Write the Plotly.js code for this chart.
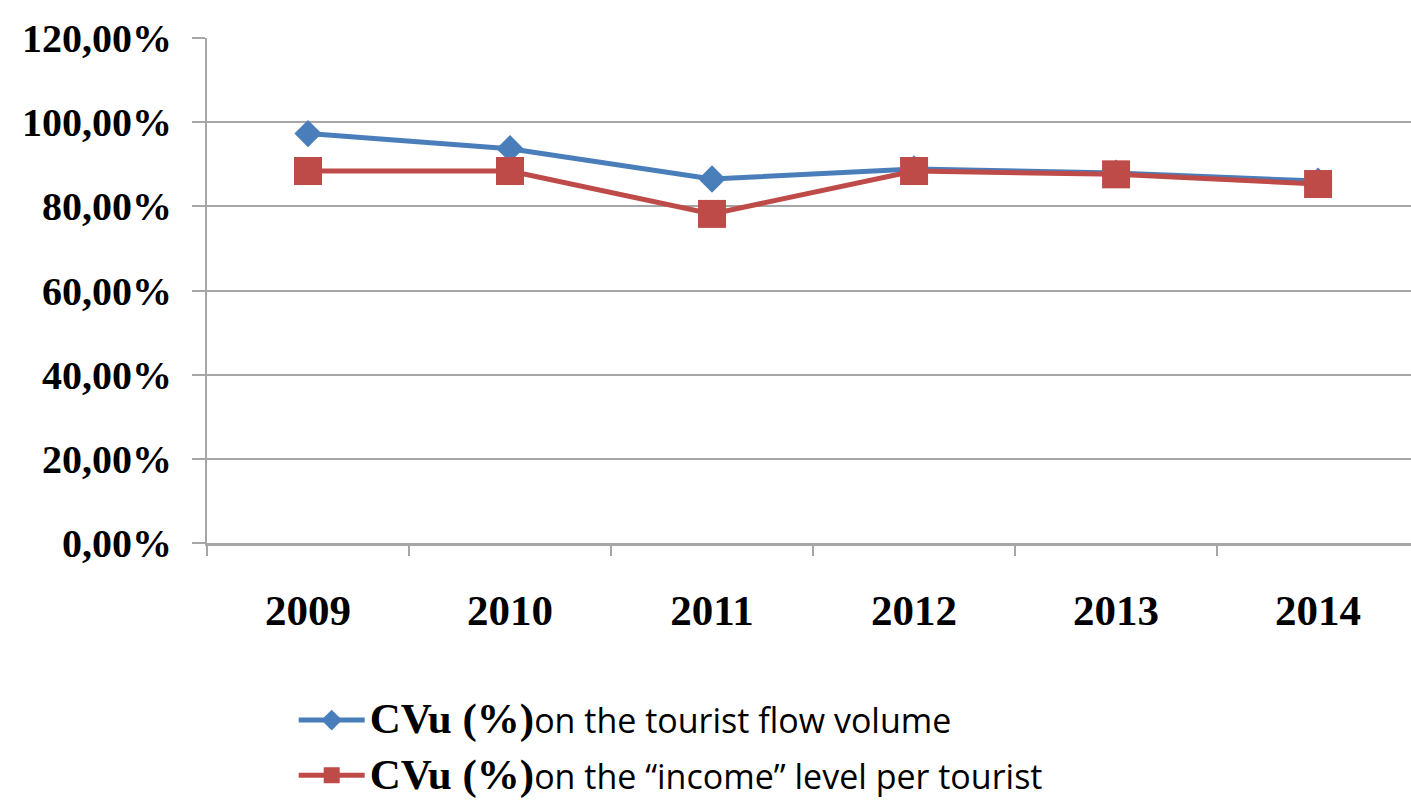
<!DOCTYPE html>
<html>
<head>
<meta charset="utf-8">
<script src="https://cdn.plot.ly/plotly-3.0.1.min.js"></script>
<style>html,body{margin:0;padding:0;background:#fff;overflow:hidden}</style>
</head>
<body>
<div id="chart" style="width:1411px;height:808px"></div>
<script>
const years = ["2009", "2010", "2011", "2012", "2013", "2014"];
const flowVolume = [97.3, 93.7, 86.5, 88.9, 87.9, 86.0];
const incomePerTourist = [88.4, 88.4, 78.2, 88.4, 87.6, 85.3];
const yTicks = [0, 20, 40, 60, 80, 100, 120];
const yTickLabels = ["0,00%", "20,00%", "40,00%", "60,00%", "80,00%", "100,00%", "120,00%"];

const boldPart = '<span style="font-family:\'Liberation Serif\',serif;font-weight:bold;font-size:43px">CVu (%)</span>';
const sansStyle = 'font-family:\'Open Sans\',sans-serif;font-size:34px';

const traces = [
  {
    x: years, y: flowVolume, type: 'scatter', mode: 'lines+markers',
    name: boldPart + '<span style="' + sansStyle + '">on the tourist flow volume</span>',
    legendgroup: 'a',
    line: {color: '#4a7ebb', width: 5},
    marker: {symbol: 'diamond', size: 21, color: '#4a7ebb'}
  },
  {
    x: years, y: incomePerTourist, type: 'scatter', mode: 'lines+markers',
    name: boldPart + '<span style="' + sansStyle + '">on the \u201cincome\u201d level per tourist</span>',
    legendgroup: 'b',
    line: {color: '#be4b48', width: 5},
    marker: {symbol: 'square', size: 28, color: '#be4b48'}
  }
];

const layout = {
  width: 1411, height: 808,
  margin: {l: 207, r: 0, t: 38, b: 265},
  paper_bgcolor: '#fff', plot_bgcolor: '#fff',
  showlegend: true,
  legend: {
    x: 0.072, y: -0.294, xanchor: 'left', yanchor: 'top',
    tracegroupgap: 8, itemwidth: 66,
    font: {family: 'Liberation Serif', size: 34, color: '#000'},
    bgcolor: 'rgba(0,0,0,0)'
  },
  xaxis: {
    type: 'category',
    range: [-0.5, 5.46],
    showgrid: false,
    showline: true, linecolor: '#a6a6a6', linewidth: 3,
    ticks: 'outside', tickson: 'boundaries', ticklen: 10, tickcolor: '#a6a6a6', tickwidth: 2,
    ticklabelstandoff: 27,
    tickfont: {family: 'Liberation Serif', size: 43, color: '#000', weight: 'bold'},
    zeroline: false, fixedrange: true
  },
  yaxis: {
    range: [0, 120],
    tickvals: yTicks, ticktext: yTickLabels,
    showgrid: true, gridcolor: '#a6a6a6', gridwidth: 2,
    showline: true, linecolor: '#a6a6a6', linewidth: 2,
    ticks: 'outside', ticklen: 13, tickcolor: '#a6a6a6', tickwidth: 2,
    ticklabelstandoff: 12,
    tickfont: {family: 'Liberation Serif', size: 40, color: '#000', weight: 'bold'},
    zeroline: false, fixedrange: true
  }
};

Plotly.newPlot('chart', traces, layout, {displayModeBar: false, staticPlot: true});
</script>
</body>
</html>
